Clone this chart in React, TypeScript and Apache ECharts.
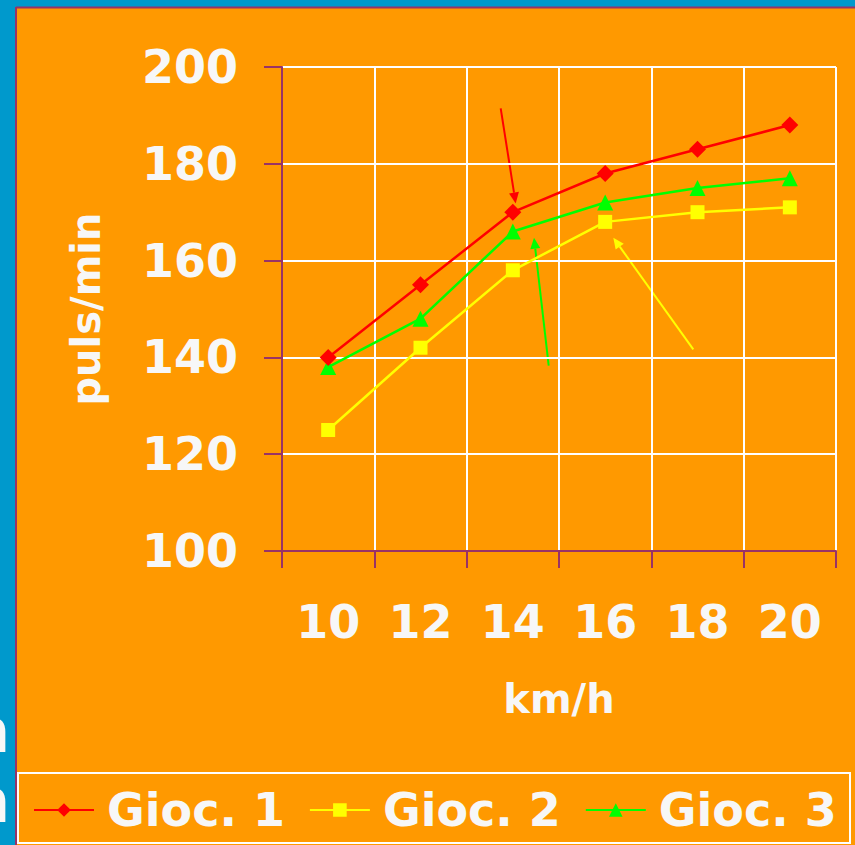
import React, { useEffect, useRef } from "react";
import * as echarts from "echarts";

const categories = ["10", "12", "14", "16", "18", "20"];
const gioc1 = [140, 155, 170, 178, 183, 188];
const gioc2 = [125, 142, 158, 168, 170, 171];
const gioc3 = [138, 148, 166, 172, 175, 177];
const seriesNames = ["Gioc. 1", "Gioc. 2", "Gioc. 3"];
const xName = "km/h";
const yName = "puls/min";

const FONT = "DejaVu Sans";
const WHITE = "#F7F7F7";
const ORANGE = "#FF9900";
const BLUE = "#0099CC";
const PURPLE = "#993366";

function arrow(x1: number, y1: number, x2: number, y2: number, color: string) {
  const dx = x2 - x1;
  const dy = y2 - y1;
  const L = Math.hypot(dx, dy);
  const ux = dx / L;
  const uy = dy / L;
  const hl = 11;
  const hw = 5;
  const bx = x2 - ux * hl;
  const by = y2 - uy * hl;
  const nx = -uy;
  const ny = ux;
  return [
    {
      type: "line",
      shape: { x1, y1, x2: bx, y2: by },
      style: { stroke: color, lineWidth: 2 },
      silent: true,
    },
    {
      type: "polygon",
      shape: {
        points: [
          [x2, y2],
          [bx + nx * hw, by + ny * hw],
          [bx - nx * hw, by - ny * hw],
        ],
      },
      style: { fill: color },
      silent: true,
    },
  ];
}

export default function App() {
  const ref = useRef<HTMLDivElement>(null);
  useEffect(() => {
    document.body.style.margin = "0";
    const chart = echarts.init(ref.current!, null, { renderer: "svg" });
    const labelStyle = {
      color: WHITE,
      fontSize: 46,
      fontWeight: "bold" as const,
      fontFamily: FONT,
    };
    chart.setOption({
      animation: false,
      backgroundColor: ORANGE,
      grid: { left: 282, top: 67, right: 19, bottom: 294 },
      legend: {
        data: seriesNames,
        left: 28,
        top: 782,
        itemWidth: 60,
        itemHeight: 17,
        itemGap: 24,
        textStyle: { ...labelStyle, fontSize: 46, padding: [0, 0, 0, 8] },
      },
      xAxis: {
        type: "category",
        data: categories,
        boundaryGap: true,
        name: xName,
        nameLocation: "middle",
        nameGap: 128,
        nameTextStyle: { ...labelStyle, fontSize: 40 },
        axisLine: { lineStyle: { color: PURPLE, width: 2 } },
        axisTick: { show: true, length: 17, lineStyle: { color: PURPLE, width: 2 } },
        axisLabel: { ...labelStyle, margin: 48 },
        splitLine: { show: true, lineStyle: { color: "#FFFFFF", width: 2 } },
      },
      yAxis: {
        type: "value",
        min: 100,
        max: 200,
        interval: 20,
        name: yName,
        nameLocation: "middle",
        nameGap: 176,
        nameRotate: 90,
        nameTextStyle: { ...labelStyle, fontSize: 40 },
        axisLine: { show: true, lineStyle: { color: PURPLE, width: 2 } },
        axisTick: { show: true, length: 18, lineStyle: { color: PURPLE, width: 2 } },
        axisLabel: { ...labelStyle, margin: 44 },
        splitLine: { show: true, lineStyle: { color: "#FFFFFF", width: 2 } },
      },
      series: [
        {
          name: seriesNames[0],
          type: "line",
          data: gioc1,
          symbol: "diamond",
          symbolSize: 17,
          itemStyle: { color: "#FF0000" },
          lineStyle: { color: "#FF0000", width: 2.5 },
          z: 4,
        },
        {
          name: seriesNames[1],
          type: "line",
          data: gioc2,
          symbol: "rect",
          symbolSize: 14,
          itemStyle: { color: "#FFFF00" },
          lineStyle: { color: "#FFFF00", width: 2.5 },
          z: 2,
        },
        {
          name: seriesNames[2],
          type: "line",
          data: gioc3,
          symbol: "triangle",
          symbolSize: 16,
          itemStyle: { color: "#00FF00" },
          lineStyle: { color: "#00FF00", width: 2.5 },
          z: 3,
        },
      ],
      graphic: [
        { type: "rect", shape: { x: 0, y: 0, width: 16, height: 845 }, style: { fill: BLUE }, silent: true },
        { type: "rect", shape: { x: 0, y: 0, width: 855, height: 7 }, style: { fill: BLUE }, silent: true },
        { type: "line", shape: { x1: 16, y1: 7.5, x2: 855, y2: 7.5 }, style: { stroke: PURPLE, lineWidth: 2 }, silent: true },
        { type: "line", shape: { x1: 16, y1: 7, x2: 16, y2: 845 }, style: { stroke: PURPLE, lineWidth: 2 }, silent: true },
        {
          type: "text",
          x: 10,
          y: 761,
          style: { text: "n", fill: WHITE, font: `bold 60px "${FONT}"`, align: "right", verticalAlign: "bottom" },
          silent: true,
        },
        {
          type: "text",
          x: 10,
          y: 831,
          style: { text: "n", fill: WHITE, font: `bold 60px "${FONT}"`, align: "right", verticalAlign: "bottom" },
          silent: true,
        },
        {
          type: "rect",
          shape: { x: 18, y: 773, width: 832, height: 70 },
          style: { fill: "none", stroke: "#FFFFFF", lineWidth: 2 },
          silent: true,
        },
        ...arrow(500.7, 108.3, 515.7, 203.5, "#FF0000"),
        ...arrow(548.7, 365.7, 534, 237.7, "#00FF00"),
        ...arrow(693.3, 349.3, 613.3, 237.7, "#FFFF00"),
      ],
    });
    return () => chart.dispose();
  }, []);
  return <div ref={ref} style={{ width: 855, height: 845 }} />;
}
